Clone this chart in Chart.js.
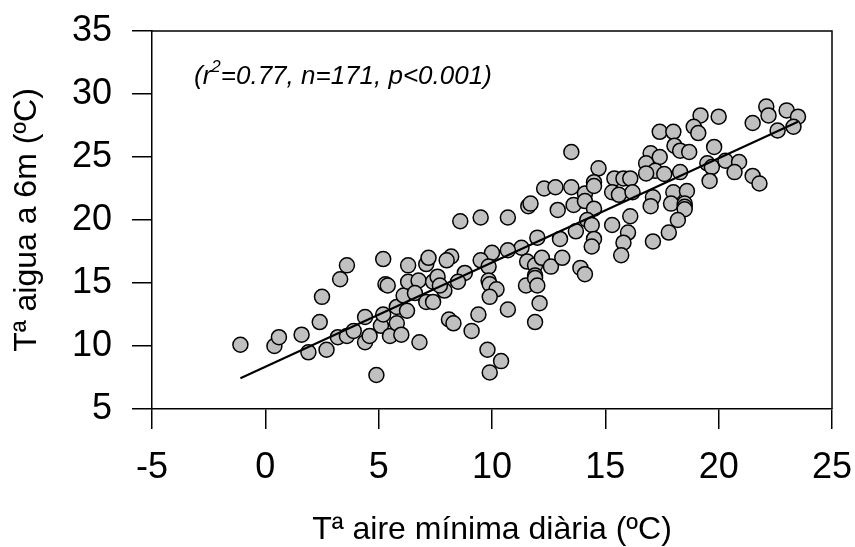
<!DOCTYPE html>
<html>
<head>
<meta charset="utf-8">
<script src="https://cdn.jsdelivr.net/npm/chart.js@4"></script>
<style>
html, body { margin: 0; padding: 0; background: #fff; }
canvas { display: block; }
</style>
</head>
<body>
<canvas id="chart" width="855" height="547"></canvas>
<script>
// tick labels
const xTicks = [-5, 0, 5, 10, 15, 20, 25];
const yTicks = [5, 10, 15, 20, 25, 30, 35];

// Tª aire mínima diària (ºC)
const airMin = [
    -1.1, 0.4, 0.6, 1.6, 1.9, 2.7, 2.4, 2.5, 3.3, 3.6, 3.2, 3.6, 3.9, 4.4, 4.4, 4.6, 4.9,
    5.2, 5.1, 5.2, 5.3, 5.4, 5.5, 5.8, 6.0, 5.8, 6.1, 6.3, 6.3, 6.25, 6.8, 6.76, 6.6,
    7.1, 7.2, 7.1, 7.4, 7.4,
    13.5, 14.7, 12.3, 12.8, 13.5, 14.1, 14.5, 14.5, 15.4, 15.8, 16.1, 15.3, 15.6, 16.2,
    11.6, 11.7, 12.9, 13.6, 14.1, 14.5, 8.6, 9.5, 10.7, 14.2, 14.4, 15.3, 16.1, 13.7,
    13.0, 12.0, 14.5, 14.4, 16.0, 15.8, 15.7, 11.3, 10.7, 10.0, 9.5, 9.85, 8.8, 8.2,
    8.0, 7.6, 11.55, 11.9, 12.2, 12.6, 13.1, 13.9, 14.1, 11.9, 9.85,
    7.9, 7.7, 8.5, 9.9, 10.2, 9.9, 11.5, 11.9, 12.0, 12.1, 11.9, 10.7, 9.4, 8.1, 8.3,
    9.1, 9.8, 10.4, 9.9,
    22.1, 22.2, 23.0, 23.5, 23.3, 22.6, 21.5, 19.2, 20.0, 18.9, 19.1, 17.4, 18.0, 18.05,
    18.3, 18.7, 19.8, 17.0, 17.4, 16.8, 17.2, 16.8, 17.6, 18.3, 19.5, 19.7, 20.3, 20.9,
    20.7, 19.6, 21.5, 21.8, 18.0, 18.6, 17.1, 17.0, 17.9, 18.5, 18.5, 18.5, 18.2, 17.8,
    17.1
];

// Tª aigua a 6m (ºC)
const water6m = [
    10.1, 10.0, 10.7, 10.9, 9.5, 9.7, 11.9, 13.9, 15.3, 16.4, 10.7, 10.8, 11.2, 12.3, 10.3, 10.8, 7.7,
    16.9, 11.6, 12.5, 14.9, 14.8, 10.8, 11.8, 10.9, 13.1, 14.0, 16.4, 15.1, 12.8, 10.3, 15.2, 14.2,
    16.5, 17.0, 13.5, 13.5, 15.1,
    25.4, 24.1, 22.5, 22.6, 22.6, 22.1, 23.0, 22.7, 23.3, 23.3, 23.3, 22.2, 22.0, 22.2,
    21.1, 21.3, 20.8, 21.2, 21.5, 20.9, 19.9, 20.2, 20.2, 20.0, 19.6, 19.6, 20.3, 19.1,
    18.5, 18.6, 18.5, 17.9, 19.0, 18.2, 17.2, 17.8, 17.6, 17.4, 16.8, 16.3, 15.8, 17.1,
    16.8, 15.5, 16.7, 16.4, 17.0, 16.3, 17.0, 16.2, 15.7, 15.6, 15.2,
    14.4, 14.8, 15.1, 14.9, 14.5, 13.9, 14.8, 15.4, 14.8, 13.4, 11.9, 12.9, 12.5, 12.1, 11.8,
    11.2, 9.7, 8.8, 7.9,
    29.0, 28.3, 28.7, 28.2, 27.4, 27.1, 27.7, 28.3, 28.2, 27.4, 26.9, 27.0, 27.0, 25.9,
    25.5, 25.4, 25.8, 25.3, 25.0, 24.5, 23.9, 23.7, 23.65, 23.8, 24.5, 24.2, 24.7, 24.6,
    23.8, 23.1, 23.5, 22.9, 22.2, 22.3, 21.8, 21.1, 21.3, 21.3, 21.05, 20.85, 20.0, 19.0,
    18.3
];

// regression line end points
const fitX = [-1.1, 23.5];
const fitY = [7.44, 27.8];

const statsParts = ['(r', '2', '=0.77, n=171, p<0.001)'];

const FONT = 'Arial, "Liberation Sans", sans-serif';

const boxAndText = {
    id: 'boxAndText',
    afterDraw(chart) {
        const { ctx, chartArea } = chart;
        ctx.save();
        ctx.strokeStyle = '#000';
        ctx.lineWidth = 1.5;
        ctx.beginPath();
        ctx.moveTo(chartArea.left, chartArea.top);
        ctx.lineTo(chartArea.right, chartArea.top);
        ctx.lineTo(chartArea.right, chartArea.bottom);
        ctx.stroke();

        // stats note
        ctx.fillStyle = '#000';
        ctx.textBaseline = 'alphabetic';
        let x = 194;
        const y = 84;
        ctx.font = 'italic 26px ' + FONT;
        ctx.fillText(statsParts[0], x, y);
        x += ctx.measureText(statsParts[0]).width;
        ctx.font = 'italic 17px ' + FONT;
        ctx.fillText(statsParts[1], x, y - 12);
        x += ctx.measureText(statsParts[1]).width;
        ctx.font = 'italic 26px ' + FONT;
        ctx.fillText(statsParts[2], x, y);
        ctx.restore();
    }
};

const points = airMin.map((v, i) => ({ x: v, y: water6m[i] }));
const fitLine = fitX.map((v, i) => ({ x: v, y: fitY[i] }));

new Chart(document.getElementById('chart'), {
    type: 'scatter',
    data: {
        datasets: [
            {
                type: 'line',
                data: fitLine,
                borderColor: '#000',
                borderWidth: 2,
                pointRadius: 0,
                fill: false,
                order: 0
            },
            {
                data: points,
                backgroundColor: '#c0c0c0',
                borderColor: '#000',
                borderWidth: 1.5,
                pointRadius: 7.5,
                order: 1
            }
        ]
    },
    options: {
        responsive: false,
        animation: false,
        layout: { padding: { top: 31, right: 23, left: 0, bottom: 0 } },
        plugins: {
            legend: { display: false },
            tooltip: { enabled: false }
        },
        scales: {
            x: {
                type: 'linear',
                min: -5,
                max: 25,
                afterBuildTicks: scale => { scale.ticks = xTicks.map(v => ({ value: v })); },
                afterFit: scale => {
                    scale.height = 138;
                    scale.paddingLeft = 0;
                    scale.paddingRight = 0;
                },
                ticks: {
                    color: '#000',
                    font: { family: FONT, size: 36 },
                    padding: 17,
                    maxRotation: 0
                },
                grid: {
                    drawOnChartArea: false,
                    drawTicks: true,
                    tickLength: 20,
                    color: '#000',
                    lineWidth: 1.5
                },
                border: { display: true, color: '#000', width: 1.5 },
                title: {
                    display: true,
                    text: 'Tª aire mínima diària (ºC)',
                    color: '#000',
                    font: { family: FONT, size: 32, lineHeight: 1 },
                    padding: { top: 0, bottom: 1 }
                }
            },
            y: {
                type: 'linear',
                min: 5,
                max: 35,
                afterBuildTicks: scale => { scale.ticks = yTicks.map(v => ({ value: v })); },
                afterFit: scale => {
                    scale.width = 152;
                    scale.paddingTop = 0;
                    scale.paddingBottom = 0;
                },
                ticks: {
                    color: '#000',
                    font: { family: FONT, size: 36 },
                    padding: 20
                },
                grid: {
                    drawOnChartArea: false,
                    drawTicks: true,
                    tickLength: 20,
                    color: '#000',
                    lineWidth: 1.5
                },
                border: { display: true, color: '#000', width: 1.5 },
                title: {
                    display: true,
                    text: 'Tª aigua a 6m (ºC)',
                    color: '#000',
                    font: { family: FONT, size: 32, lineHeight: 1 },
                    padding: { top: 11, bottom: 0 }
                }
            }
        }
    },
    plugins: [boxAndText]
});
</script>
</body>
</html>
